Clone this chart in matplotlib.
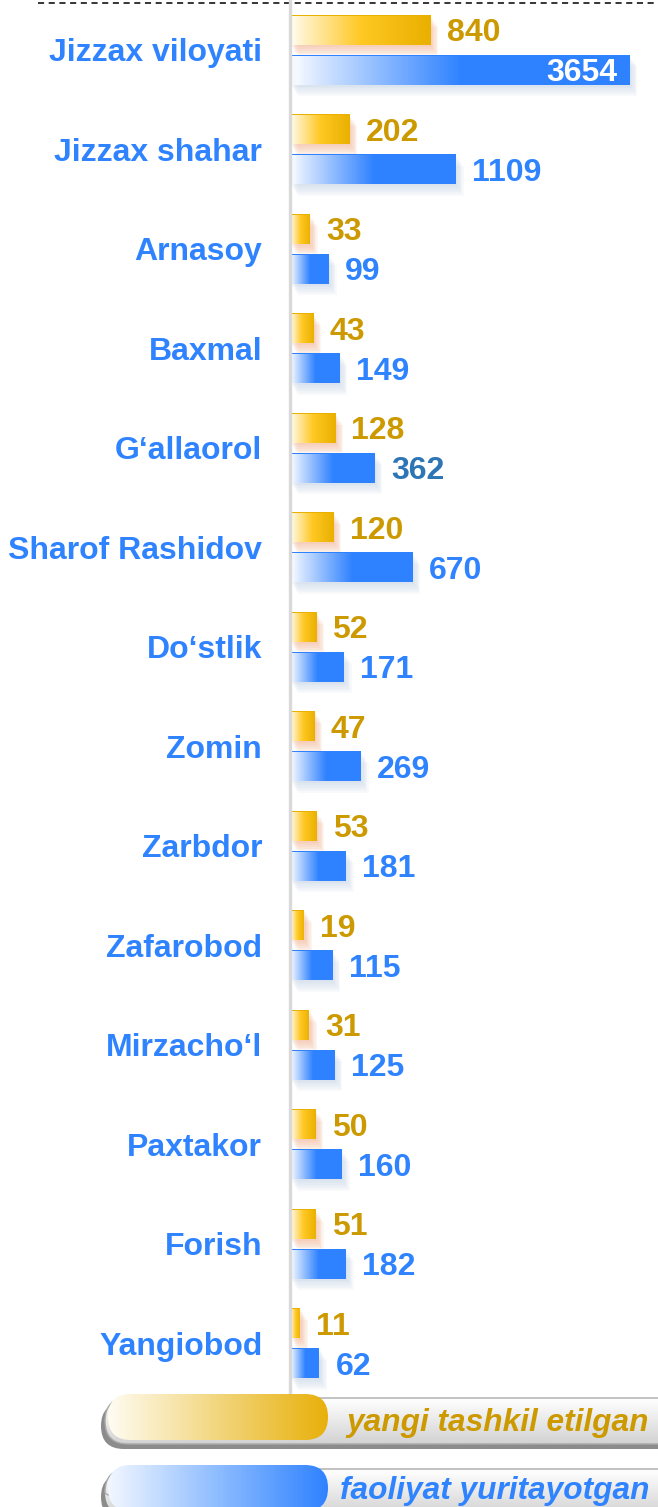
import numpy as np
import matplotlib
matplotlib.use("Agg")
import matplotlib.pyplot as plt
from matplotlib.colors import LinearSegmentedColormap, to_rgba
from matplotlib.patches import FancyBboxPatch
from matplotlib import patheffects as pe

plt.rcParams['font.family'] = ['Liberation Sans', 'DejaVu Sans']

# data
categories = ['Jizzax viloyati', 'Jizzax shahar', 'Arnasoy', 'Baxmal', 'G‘allaorol',
              'Sharof Rashidov', 'Do‘stlik', 'Zomin', 'Zarbdor', 'Zafarobod',
              'Mirzacho‘l', 'Paxtakor', 'Forish', 'Yangiobod']
new_orgs = [840, 202, 33, 43, 128, 120, 52, 47, 53, 19, 31, 50, 51, 11]
active_orgs = [3654, 1109, 99, 149, 362, 670, 171, 269, 181, 115, 125, 160, 182, 62]
series_names = ['yangi tashkil etilgan', 'faoliyat yuritayotgan']

BLUE = '#2f83ff'
GOLD = '#cc9a00'
FS = 23
FS_LEG = 22.8
POWER = 0.6  # bars in the picture are not linear, a power scale fits them well

yellow_cmap = LinearSegmentedColormap.from_list(
    'yel', [(0, '#fffaea'), (0.5, '#ffc823'), (1, '#e9b000')])
blue_cmap = LinearSegmentedColormap.from_list(
    'blu', [(0, '#f4f8ff'), (0.5, '#2f82ff'), (1, '#2f82ff')])
# the legend pills use plainer gradients
yellow_leg = LinearSegmentedColormap.from_list('yl', ['#fffcf2', '#f2d67e', '#e8b00a'])
blue_leg = LinearSegmentedColormap.from_list('bl', ['#f2f7ff', '#8dbcff', '#2f82ff'])


def fwd(x):
    x = np.asarray(x, dtype=float)
    return np.sign(x) * np.abs(x) ** POWER


def inv(x):
    x = np.asarray(x, dtype=float)
    return np.sign(x) * np.abs(x) ** (1 / POWER)


W, H = 658, 1507
fig = plt.figure(figsize=(W / 100, H / 100), dpi=100)
ax = fig.add_axes([290 / W, 114 / H, 368 / W, 1393 / H])
ax.set_xscale('function', functions=(fwd, inv))

y = np.arange(len(categories))
h = 0.30
d = np.linspace(0, 1, 256)


def gradient_bars(ypos, vals, cmap, shadow_col):
    bars = ax.barh(ypos, vals, height=h, color=cmap(1.0), zorder=2)
    # colours laid out along display distance, not data distance
    grad = cmap(d ** POWER)[None, :, :]
    # soft shadow: several faint copies drifting down and right
    shadows = [pe.SimplePatchShadow(offset=(k * 0.9, -k * 1.4), shadow_rgbFace=shadow_col,
                                    alpha=0.10) for k in range(6, 0, -1)]
    for b, v, yy in zip(bars, vals, ypos):
        b.set_path_effects(shadows + [pe.Normal()])
        im = ax.imshow(grad, extent=(0, v, yy - h / 2, yy + h / 2), aspect='auto',
                       interpolation='bilinear', zorder=3)
        im.set_clip_path(b)
    return bars


gradient_bars(y - 0.2, new_orgs, yellow_cmap, '#f0a078')
gradient_bars(y + 0.2, active_orgs, blue_cmap, '#b8c8e0')

for i in range(len(categories)):
    ax.annotate(str(new_orgs[i]), (new_orgs[i], y[i] - 0.2), xytext=(11.5, 0),
                textcoords='offset points', ha='left', va='center_baseline',
                fontsize=FS, fontweight='bold', color=GOLD, zorder=5)
    v = active_orgs[i]
    if v == max(active_orgs):
        ax.annotate(str(v), (v, y[i] + 0.2), xytext=(-9, 0), textcoords='offset points',
                    ha='right', va='center_baseline', fontsize=FS, fontweight='bold',
                    color='white', zorder=5)
    else:
        col = '#2e75b6' if categories[i] == 'G‘allaorol' else BLUE
        ax.annotate(str(v), (v, y[i] + 0.2), xytext=(11.5, 0), textcoords='offset points',
                    ha='left', va='center_baseline', fontsize=FS, fontweight='bold',
                    color=col, zorder=5)

ax.set_yticks(y)
ax.set_yticklabels(categories, fontsize=FS, fontweight='bold', color=BLUE)
ax.tick_params(axis='y', length=0, pad=20)
ax.set_xticks([])
ax.xaxis.set_minor_locator(matplotlib.ticker.NullLocator())
ax.set_xlim(0, 4170)
ax.set_ylim(len(categories) - 0.5, -0.5)
for s in ['top', 'right', 'bottom']:
    ax.spines[s].set_visible(False)
ax.spines['left'].set_color('#d9d9d9')
ax.spines['left'].set_linewidth(2.4)
ax.spines['left'].set_zorder(6)
ax.patch.set_alpha(0)

# overlay in pixel units for the dashed rule and the legend pills
ov = fig.add_axes([0, 0, 1, 1], zorder=-1)
ov.set_xlim(0, W)
ov.set_ylim(H, 0)
ov.axis('off')
ov.plot([38, W], [3, 3], color='black', lw=1.1, ls=(0, (4, 3)))

ov2 = fig.add_axes([0, 0, 1, 1], zorder=5)
ov2.set_xlim(0, W)
ov2.set_ylim(H, 0)
ov2.axis('off')


def pill(x0, y0, w, hh, fill_grad, edge='none', zo=1):
    p = FancyBboxPatch((x0, y0), w, hh, boxstyle='round,pad=0,rounding_size=%g' % (hh / 2),
                       facecolor='none', edgecolor=edge, lw=1, zorder=zo + 1)
    ov2.add_patch(p)
    im = ov2.imshow(fill_grad, extent=(x0, x0 + w, y0 + hh, y0), aspect='auto',
                    interpolation='bilinear', zorder=zo)
    im.set_clip_path(p)
    return p


gray_cmap = LinearSegmentedColormap.from_list('g', [(0, '#ffffff'), (0.35, '#f0f0f0'), (1, '#d2d2d2')])
vgrad = gray_cmap(np.linspace(0, 1, 64))[:, None, :]
shadow_grad = np.array([[to_rgba('#8c8c8c')]])

legend_rows = [(1394, 1419, yellow_leg, GOLD), (1465, 1488, blue_leg, BLUE)]
for (top, ty, cmap, tcol), name in zip(legend_rows, series_names):
    pill(101, top + 9, 620, 46, shadow_grad, zo=1)
    pill(105, top + 4, 620, 46, vgrad, edge='#a9a9a9', zo=3)
    pill(108, top, 220, 46, cmap(np.linspace(0, 1, 256))[None, :, :], zo=5)
    ov2.text(649, ty, name, ha='right', va='center_baseline', fontsize=FS_LEG,
             fontweight='bold', fontstyle='italic', color=tcol, zorder=8)

ov2.set_xlim(0, W)
ov2.set_ylim(H, 0)

fig.savefig('out.png', dpi=100)
